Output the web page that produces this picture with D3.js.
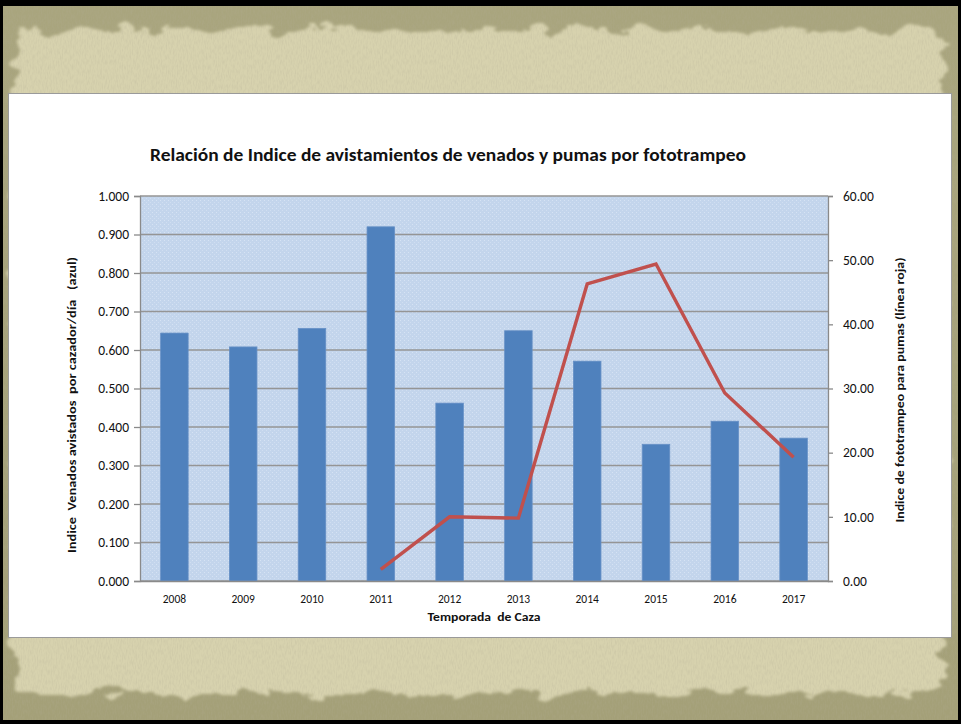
<!DOCTYPE html>
<html>
<head>
<meta charset="utf-8">
<script src="https://cdn.jsdelivr.net/npm/d3@7"></script>
<style>
  html, body { margin: 0; padding: 0; background: #000; }
  svg { display: block; }
</style>
</head>
<body>
<svg id="chart" width="961" height="724"></svg>
<script>
// ---- data ----
const years = ["2008","2009","2010","2011","2012","2013","2014","2015","2016","2017"];
const deerIndex = [0.644, 0.608, 0.656, 0.920, 0.462, 0.650, 0.571, 0.355, 0.415, 0.371];
const pumaYears = ["2011","2012","2013","2014","2015","2016","2017"];
const pumaIndex = [1.8, 10.0, 9.8, 46.3, 49.4, 29.3, 19.3];
const leftTicks = [0,0.1,0.2,0.3,0.4,0.5,0.6,0.7,0.8,0.9,1.0];
const rightTicks = [0,10,20,30,40,50,60];
const titleText = "Relación de Indice de avistamientos de venados y pumas por fototrampeo";
const leftTitle = "Indice  Venados avistados  por cazador/día   (azul)";
const rightTitle = "Indice de fototrampeo para pumas (línea roja)";
const xTitle = "Temporada  de Caza";

const W = 961, H = 724;
const svg = d3.select("#chart");
const defs = svg.append("defs");
const FONT = "Carlito, Lato, 'Open Sans', sans-serif";

// ---- parchment background ----
const f1 = defs.append("filter").attr("id","rough").attr("x","-5%").attr("y","-5%").attr("width","110%").attr("height","110%");
f1.append("feTurbulence").attr("type","fractalNoise").attr("baseFrequency","0.03 0.06").attr("numOctaves",4).attr("seed",5).attr("result","n");
f1.append("feDisplacementMap").attr("in","SourceGraphic").attr("in2","n").attr("scale",26).attr("xChannelSelector","R").attr("yChannelSelector","G").attr("result","d");
f1.append("feGaussianBlur").attr("in","d").attr("stdDeviation",1.5);

const f2 = defs.append("filter").attr("id","grain").attr("x",0).attr("y",0).attr("width","100%").attr("height","100%");
f2.append("feTurbulence").attr("type","fractalNoise").attr("baseFrequency","0.8 0.2").attr("numOctaves",2).attr("seed",7).attr("result","t");
f2.append("feColorMatrix").attr("in","t").attr("type","matrix")
  .attr("values","0 0 0 0 0.45  0 0 0 0 0.42  0 0 0 0 0.30  0 0 0 -1.6 1.0");

const edge = defs.append("linearGradient").attr("id","edgeV").attr("x1",0).attr("y1",0).attr("x2",0).attr("y2",1);
edge.append("stop").attr("offset","0").attr("stop-color","#A9A57E");
edge.append("stop").attr("offset","1").attr("stop-color","#A4A078");

svg.append("rect").attr("x",0).attr("y",0).attr("width",W).attr("height",H).attr("fill","#000");
svg.append("rect").attr("x",3).attr("y",6).attr("width",W-6).attr("height",H-10).attr("fill","url(#edgeV)");
svg.append("rect").attr("x",15).attr("y",30).attr("width",928).attr("height",664).attr("rx",14)
  .attr("fill","#D7D2AE").attr("filter","url(#rough)");
svg.append("rect").attr("x",3).attr("y",6).attr("width",W-6).attr("height",H-10)
  .attr("filter","url(#grain)").attr("opacity",0.3);

// ---- chart area ----
svg.append("rect").attr("x",8.5).attr("y",93.5).attr("width",943).attr("height",544)
  .attr("fill","#fff").attr("stroke","#9a9a9a").attr("stroke-width",1);

const P = {left:140, right:828, top:196, bottom:581};

// plot background pattern
const pat = defs.append("pattern").attr("id","dots").attr("width",4).attr("height",4).attr("patternUnits","userSpaceOnUse");
pat.append("rect").attr("width",4).attr("height",4).attr("fill","#C3D5EC");
pat.append("rect").attr("x",0).attr("y",0).attr("width",1).attr("height",1).attr("fill","#D6E3F4");
pat.append("rect").attr("x",2).attr("y",2).attr("width",1).attr("height",1).attr("fill","#D0DEF1");
svg.append("rect").attr("x",P.left).attr("y",P.top).attr("width",P.right-P.left).attr("height",P.bottom-P.top)
  .attr("fill","url(#dots)");

const x = d3.scaleBand().domain(years).range([P.left,P.right]).padding(0);
const yL = d3.scaleLinear().domain([0,1]).range([P.bottom,P.top]);
const yR = d3.scaleLinear().domain([0,60]).range([P.bottom,P.top]);

// gridlines
svg.append("g").selectAll("line").data(leftTicks).join("line")
  .attr("x1",P.left).attr("x2",P.right)
  .attr("y1",d=>yL(d)).attr("y2",d=>yL(d))
  .attr("stroke","#959595").attr("stroke-width",1.6);

// bars
const barW = x.bandwidth()/2.5;
svg.append("g").selectAll("rect").data(years).join("rect")
  .attr("x",(d)=>x(d)+x.bandwidth()/2-barW/2)
  .attr("y",(d,i)=>yL(deerIndex[i]))
  .attr("width",barW)
  .attr("height",(d,i)=>P.bottom-yL(deerIndex[i]))
  .attr("fill","#4F81BD").attr("stroke","#6690C6").attr("stroke-width",0.8);

// axes
const axL = d3.axisLeft(yL).tickValues(leftTicks).tickFormat(d3.format(".3f")).tickSize(6).tickPadding(5);
const gL = svg.append("g").attr("transform",`translate(${P.left},0)`).call(axL);
const axR = d3.axisRight(yR).tickValues(rightTicks).tickFormat(d3.format(".2f")).tickSize(5).tickPadding(10);
const gR = svg.append("g").attr("transform",`translate(${P.right},0)`).call(axR);
const axB = d3.axisBottom(x).tickSize(0).tickPadding(14);
const gB = svg.append("g").attr("transform",`translate(0,${P.bottom})`).call(axB);
[gL,gR,gB].forEach(g=>{
  g.select(".domain").attr("stroke","#8a8a8a").attr("stroke-width",1.3);
  g.selectAll(".tick line").attr("stroke","#8a8a8a").attr("stroke-width",1.3);
  g.selectAll("text").attr("fill","#111").attr("font-family",FONT);
});
gL.selectAll("text").attr("font-size",13.5);
gR.selectAll("text").attr("font-size",13.5);
gB.selectAll("text").attr("font-size",11.5);

// line
const line = d3.line().x(d=>x(d.y)+x.bandwidth()/2).y(d=>yR(d.v)).curve(d3.curveLinear);
svg.append("path").datum(pumaYears.map((y,i)=>({y:y,v:pumaIndex[i]})))
  .attr("d",line).attr("fill","none").attr("stroke","#C0504D").attr("stroke-width",3.4)
  .attr("stroke-linejoin","miter");

// titles
svg.append("text").attr("x",150).attr("y",161).attr("font-family",FONT).attr("font-weight","bold")
  .attr("font-size",17).attr("fill","#111").attr("textLength",596).attr("lengthAdjust","spacingAndGlyphs")
  .text(titleText);

svg.append("text").attr("transform","translate(76,405) rotate(-90)").attr("text-anchor","middle")
  .attr("font-family",FONT).attr("font-weight","bold").attr("font-size",12).attr("fill","#111")
  .style("white-space","pre").attr("textLength",296).attr("lengthAdjust","spacingAndGlyphs")
  .text(leftTitle);

svg.append("text").attr("transform","translate(904,390) rotate(-90)").attr("text-anchor","middle")
  .attr("font-family",FONT).attr("font-weight","bold").attr("font-size",12).attr("fill","#111")
  .attr("textLength",265).attr("lengthAdjust","spacingAndGlyphs")
  .text(rightTitle);

svg.append("text").attr("x",484).attr("y",621).attr("text-anchor","middle")
  .attr("font-family",FONT).attr("font-weight","bold").attr("font-size",12).attr("fill","#111")
  .style("white-space","pre").attr("textLength",113).attr("lengthAdjust","spacingAndGlyphs")
  .text(xTitle);
</script>
</body>
</html>
